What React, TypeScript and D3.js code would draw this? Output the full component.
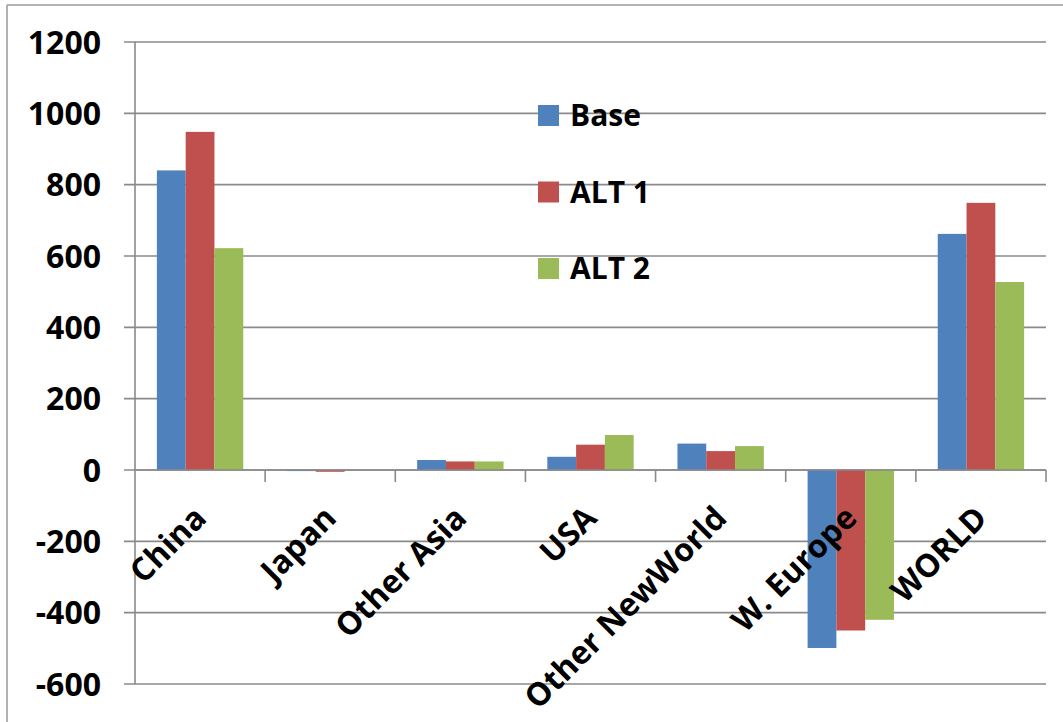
import * as d3 from 'd3'

const categories = ['China', 'Japan', 'Other Asia', 'USA', 'Other NewWorld', 'W. Europe', 'WORLD'];
const seriesNames = ['Base', 'ALT 1', 'ALT 2'];
const baseValues = [840, -3, 28, 37, 74, -499, 662];
const alt1Values = [948, -5, 24, 71, 53, -450, 749];
const alt2Values = [622, -1, 24, 98, 67, -420, 527];
const yTicks = [-600, -400, -200, 0, 200, 400, 600, 800, 1000, 1200];
const colors = ['#4F81BD', '#C0504D', '#9BBB59'];

function App() {
  const width = 1063;
  const height = 722;
  const left = 135;
  const right = 1046;
  const top = 42;
  const bottom = 684;
  const font = "'Open Sans', 'Liberation Sans', sans-serif";
  const gridColor = '#8a8a8a';

  const series = [baseValues, alt1Values, alt2Values];

  const x = d3.scaleBand().domain(categories).range([left, right]).padding(0);
  const xInner = d3.scaleBand().domain(seriesNames).range([0, x.bandwidth()])
    .paddingInner(0).paddingOuter(0.76);
  const y = d3.scaleLinear().domain([-600, 1200]).range([bottom, top]);

  return (
    <svg width={width} height={height} style={{ position: 'absolute', left: 0, top: 0, background: '#fff' }}>
      {/* outer frame */}
      <line x1={7} x2={7} y1={5} y2={height} stroke="#9a9a9a" strokeWidth={1.5} />
      <line x1={7} x2={width} y1={5} y2={5} stroke="#9a9a9a" strokeWidth={1.5} />

      {/* gridlines */}
      {yTicks.map(t => (
        <line key={t} x1={124} x2={right} y1={y(t)} y2={y(t)} stroke={gridColor} strokeWidth={1.6} />
      ))}

      {/* y axis */}
      <line x1={left} x2={left} y1={top} y2={bottom} stroke={gridColor} strokeWidth={1.6} />

      {/* y labels */}
      {yTicks.map(t => (
        <text key={t} x={101} y={y(t)} dy="0.36em" textAnchor="end"
          fontFamily={font} fontWeight="bold" fontSize={32} fill="#000">{t}</text>
      ))}

      {/* bars */}
      {series.map((vals, si) => (
        <g key={si}>
          {vals.map((v, ci) => (
            <rect key={ci}
              x={(x(categories[ci]) as number) + (xInner(seriesNames[si]) as number)}
              y={y(Math.max(0, v))}
              width={xInner.bandwidth()}
              height={Math.abs(y(v) - y(0))}
              fill={colors[si]} />
          ))}
        </g>
      ))}

      {/* x axis */}
      <line x1={left} x2={right} y1={y(0)} y2={y(0)} stroke={gridColor} strokeWidth={1.6} />
      {categories.map(c => (
        <line key={c} x1={(x(c) as number) + x.bandwidth()} x2={(x(c) as number) + x.bandwidth()}
          y1={y(0)} y2={y(0) + 12} stroke={gridColor} strokeWidth={1.6} />
      ))}

      {/* category labels */}
      {categories.map(c => {
        const cx = (x(c) as number) + x.bandwidth() / 2 + 8;
        return (
          <text key={c} transform={`translate(${cx},520) rotate(-45)`} textAnchor="end"
            fontFamily={font} fontWeight="bold" fontSize={32} fill="#000">{c}</text>
        );
      })}

      {/* legend */}
      {seriesNames.map((s, i) => (
        <g key={s} transform={`translate(538,${105 + i * 76.5})`}>
          <rect width={21} height={21} fill={colors[i]} />
          <text x={32} y={21} fontFamily={font} fontWeight="bold" fontSize={30} fill="#000">{s}</text>
        </g>
      ))}
    </svg>
  );
}

export default App;
